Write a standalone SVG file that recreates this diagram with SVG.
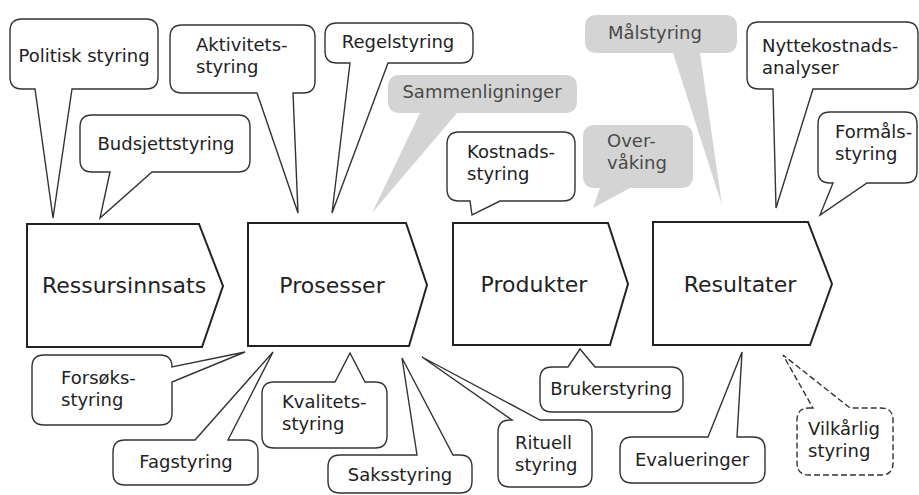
<svg xmlns="http://www.w3.org/2000/svg" width="919" height="495" viewBox="0 0 919 495">
<style>
text{font-family:"DejaVu Sans","Open Sans","Liberation Sans",sans-serif;fill:#222}
.b{fill:#fff;stroke:#333;stroke-width:1.4;stroke-linejoin:miter}
.g{fill:#d4d4d4;stroke:none}
.gt{fill:#4a4a4a}
.d{fill:#fff;stroke:#333;stroke-width:1.4;stroke-dasharray:6 3}
.c{fill:#fff;stroke:#222;stroke-width:2}
.t{font-size:18px}
.ct{font-size:22px;text-anchor:middle}
.m{text-anchor:middle}
</style>
<rect width="919" height="495" fill="#fff"/>
<g id="connectors"/>
<g id="sammenligninger"><path class="g" d="M400,75 H565 Q577,75 577,87 V101 Q577,113 565,113 H457 L372,213 L420,113 H400 Q388,113 388,101 V87 Q388,75 400,75 Z"/><text class="t gt m" x="482" y="98">Sammenligninger</text></g>
<g id="overvaking"><path class="g" d="M595,125 H681 Q693,125 693,137 V176 Q693,188 681,188 H630 L593,208 L600,188 H595 Q583,188 583,176 V137 Q583,125 595,125 Z"/><text class="t gt"><tspan x="607" y="147">Over-</tspan><tspan x="607" y="169">våking</tspan></text></g>
<g id="malstyring"><path class="g" d="M597,15 H725 Q737,15 737,27 V41 Q737,53 725,53 H700 L722,205 L673,53 H597 Q585,53 585,41 V27 Q585,15 597,15 Z"/><text class="t gt m" x="655" y="39">Målstyring</text></g>
<g id="politisk"><path class="b" d="M22,19 H146 Q158,19 158,31 V77 Q158,89 146,89 H72 L53,218 L35,89 H22 Q10,89 10,77 V31 Q10,19 22,19 Z"/><text class="t m" x="84" y="62">Politisk styring</text></g>
<g id="budsjett"><path class="b" d="M92,115 H238 Q250,115 250,127 V160 Q250,172 238,172 H152 L100,218 L110,172 H92 Q80,172 80,160 V127 Q80,115 92,115 Z"/><text class="t m" x="166" y="150">Budsjettstyring</text></g>
<g id="aktivitet"><path class="b" d="M182,25 H303 Q315,25 315,37 V81 Q315,93 303,93 H293 L298,213 L257,93 H182 Q170,93 170,81 V37 Q170,25 182,25 Z"/><text class="t"><tspan x="196" y="51">Aktivitets-</tspan><tspan x="196" y="73">styring</tspan></text></g>
<g id="regel"><path class="b" d="M337,23 H461 Q473,23 473,35 V51 Q473,63 461,63 H388 L332,213 L350,63 H337 Q325,63 325,51 V35 Q325,23 337,23 Z"/><text class="t m" x="398" y="48">Regelstyring</text></g>
<g id="kostnad"><path class="b" d="M459,132 H563 Q575,132 575,144 V189 Q575,201 563,201 H500 L472,215 L470,201 H459 Q447,201 447,189 V144 Q447,132 459,132 Z"/><text class="t"><tspan x="467" y="158">Kostnads-</tspan><tspan x="467" y="180">styring</tspan></text></g>
<g id="nytte"><path class="b" d="M759,22 H906 Q918,22 918,34 V77 Q918,89 906,89 H813 L776,208 L773,89 H759 Q747,89 747,77 V34 Q747,22 759,22 Z"/><text class="t"><tspan x="762" y="52">Nyttekostnads-</tspan><tspan x="762" y="74">analyser</tspan></text></g>
<g id="formal"><path class="b" d="M830,112 H905 Q917,112 917,124 V171 Q917,183 905,183 H867 L820,215 L833,183 H830 Q818,183 818,171 V124 Q818,112 830,112 Z"/><text class="t"><tspan x="835" y="138">Formåls-</tspan><tspan x="835" y="160">styring</tspan></text></g>
<g id="ressursinnsats"><path class="c" d="M27,224 H199 L223,286 L202,347 H27 Z"/><text class="ct" x="124" y="293">Ressursinnsats</text></g>
<g id="prosesser"><path class="c" d="M248,223 H406 L427,285 L409,346 H248 Z"/><text class="ct" x="332" y="293">Prosesser</text></g>
<g id="produkter"><path class="c" d="M453,223 H608 L628,284 L610,345 H453 Z"/><text class="ct" x="534" y="292">Produkter</text></g>
<g id="resultater"><path class="c" d="M653,222 H808 L832,284 L810,345 H653 Z"/><text class="ct" x="740" y="292">Resultater</text></g>
<g id="forsok"><path class="b" d="M44,355 H160 Q172,355 172,367 L245,352 L172,382 V413 Q172,425 160,425 H44 Q32,425 32,413 V367 Q32,355 44,355 Z"/><text class="t"><tspan x="61" y="384">Forsøks-</tspan><tspan x="61" y="406">styring</tspan></text></g>
<g id="fag"><path class="b" d="M125,440 H195 L273,352 L228,440 H246 Q258,440 258,452 V473 Q258,485 246,485 H125 Q113,485 113,473 V452 Q113,440 125,440 Z"/><text class="t m" x="186" y="468">Fagstyring</text></g>
<g id="kvalitet"><path class="b" d="M274,382 H335 L350,353 L365,382 H375 Q387,382 387,394 V436 Q387,448 375,448 H274 Q262,448 262,436 V394 Q262,382 274,382 Z"/><text class="t"><tspan x="282" y="408">Kvalitets-</tspan><tspan x="282" y="430">styring</tspan></text></g>
<g id="saks"><path class="b" d="M340,455 H417 L402,358 L453,455 H460 Q472,455 472,467 V481 Q472,493 460,493 H340 Q328,493 328,481 V467 Q328,455 340,455 Z"/><text class="t m" x="400" y="481">Saksstyring</text></g>
<g id="rituell"><path class="b" d="M510,420 H512 L422,357 L540,420 H580 Q592,420 592,432 V475 Q592,487 580,487 H510 Q498,487 498,475 V432 Q498,420 510,420 Z"/><text class="t"><tspan x="515" y="449">Rituell</tspan><tspan x="515" y="471">styring</tspan></text></g>
<g id="bruker"><path class="b" d="M552,367 H568 L580,349 L595,367 H671 Q683,367 683,379 V400 Q683,412 671,412 H552 Q540,412 540,400 V379 Q540,367 552,367 Z"/><text class="t m" x="611" y="395">Brukerstyring</text></g>
<g id="evaluering"><path class="b" d="M632,437 H708 L742,352 L737,437 H753 Q765,437 765,449 V471 Q765,483 753,483 H632 Q620,483 620,471 V449 Q620,437 632,437 Z"/><text class="t m" x="692" y="466">Evalueringer</text></g>
<g id="vilkarlig"><path class="d" d="M809,408 H813 L783,355 L850,408 H881 Q893,408 893,420 V463 Q893,475 881,475 H809 Q797,475 797,463 V420 Q797,408 809,408 Z"/><text class="t"><tspan x="808" y="435">Vilkårlig</tspan><tspan x="808" y="457">styring</tspan></text></g>
</svg>
